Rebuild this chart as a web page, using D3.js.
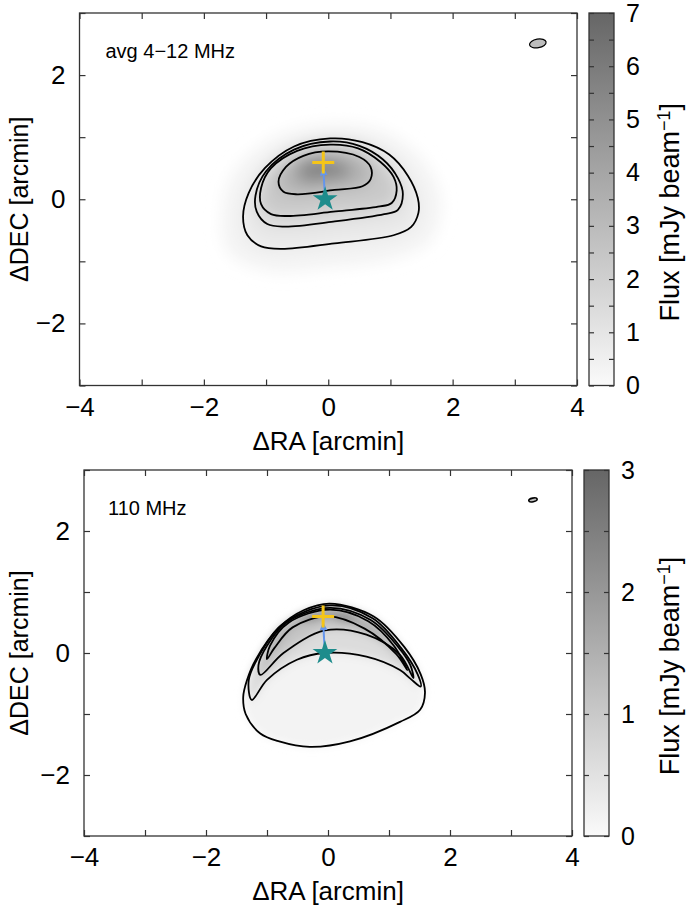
<!DOCTYPE html>
<html><head><meta charset="utf-8">
<script src="https://cdn.jsdelivr.net/npm/d3@7"></script>
<style>
body{margin:0;background:#fff}
text{font-family:"Liberation Sans",Arial,Helvetica,sans-serif;fill:#000}
</style></head>
<body><svg id="c" width="688" height="909"></svg>
<script>
// ---------- data ----------
const raTicks = [-4, -2, 0, 2, 4];
const decTicks = [-2, 0, 2];
const topCbarTicks = [0, 1, 2, 3, 4, 5, 6, 7];
const botCbarTicks = [0, 1, 2, 3];
const topLabel = "avg 4\u221212 MHz";
const botLabel = "110 MHz";

// top panel contours [ΔRA, ΔDEC]
const topC1 = [[0.03,0.98],[0.55,0.92],[0.98,0.72],[1.28,0.38],[1.44,0.02],[1.45,-0.22],[1.33,-0.45],[1.05,-0.58],[0.1,-0.71],[-0.75,-0.8],[-1.08,-0.76],[-1.3,-0.58],[-1.37,-0.28],[-1.28,0.1],[-1.02,0.5],[-0.55,0.85]];
const topC2 = [[0.03,0.93],[0.5,0.86],[0.88,0.64],[1.12,0.34],[1.2,0.08],[1.12,-0.17],[0.9,-0.24],[0.08,-0.36],[-0.7,-0.44],[-0.98,-0.4],[-1.15,-0.2],[-1.17,0.06],[-1.0,0.45],[-0.55,0.8]];
const topC3 = [[0.03,0.88],[0.48,0.82],[0.84,0.6],[1.05,0.36],[1.1,0.14],[1.02,-0.06],[0.8,-0.12],[0.08,-0.2],[-0.65,-0.27],[-0.92,-0.24],[-1.08,-0.08],[-1.08,0.18],[-0.92,0.5],[-0.5,0.78]];
const topC4 = [[0.0,0.77],[0.5,0.68],[0.68,0.52],[0.68,0.32],[0.55,0.21],[0.1,0.15],[-0.5,0.08],[-0.72,0.12],[-0.8,0.28],[-0.68,0.52],[-0.4,0.7]];
const topHalo = [[0.0,1.2],[0.85,1.1],[1.5,0.65],[1.8,0.0],[1.65,-0.65],[1.05,-0.95],[0.0,-1.1],[-0.95,-1.15],[-1.6,-0.85],[-1.7,-0.2],[-1.5,0.45],[-0.85,1.0]];
const topCore = [[-0.1,0.65],[0.3,0.55],[0.35,0.4],[0.0,0.32],[-0.4,0.3],[-0.5,0.45],[-0.4,0.6]];
const topShadeValues = [0.35, 0.85, 1.5, 2.3, 3.4, 5.6]; // halo, C1, C2, C3, C4, core (mJy/beam)

// bottom panel contours
const botC1 = [[0.03,0.81],[0.75,0.6],[1.25,0.1],[1.52,-0.35],[1.59,-0.65],[1.51,-0.93],[1.18,-1.13],[0.36,-1.45],[-0.3,-1.54],[-0.8,-1.45],[-1.11,-1.32],[-1.35,-1.0],[-1.39,-0.72],[-1.33,-0.45],[-1.18,-0.1],[-0.79,0.43],[-0.4,0.7]];
const botC2 = [[-1.25,-0.77],[-1.3,-0.45],[-1.16,-0.1],[-0.76,0.46],[0.03,0.78],[0.73,0.57],[1.2,0.08],[1.47,-0.35],[1.52,-0.55],[1.35,-0.42],[1.18,-0.28],[0.63,-0.06],[-0.05,0.0],[-0.51,-0.11],[-1.0,-0.44]];
const botC3 = [[-1.11,-0.36],[-1.14,-0.2],[-1.0,0.12],[-0.68,0.5],[0.03,0.74],[0.7,0.54],[1.15,0.1],[1.35,-0.2],[1.4,-0.41],[1.18,-0.03],[0.63,0.3],[-0.05,0.37],[-0.73,0.0]];
const botC4 = [[-1.0,-0.1],[-0.95,0.12],[-0.64,0.5],[0.03,0.71],[0.66,0.52],[1.08,0.12],[1.3,-0.28],[1.12,-0.02],[0.6,0.4],[0.0,0.6],[-0.58,0.42],[-0.88,0.08]];
const botCore = [[-0.5,0.6],[0.0,0.7],[0.5,0.6],[0.3,0.52],[0.0,0.6],[-0.3,0.52]];
const botShadeValues = [0.14, 0.6, 1.1, 1.7, 2.4]; // C1, C2, C3, C4, core

// markers [ΔRA, ΔDEC]
const topPlus = [-0.08, 0.59], topStar = [-0.05, 0.0], topArrowTip = [-0.08, 0.5];
const botPlus = [-0.08, 0.6], botStar = [-0.05, 0.0], botArrowTip = [-0.08, 0.49];
// beams: [ΔRA, ΔDEC, major, minor (arcmin), angle deg]
const topBeam = [3.37, 2.51, 0.27, 0.14, -10];
const botBeam = [3.36, 2.51, 0.14, 0.06, -12];

// ---------- drawing ----------
const svg = d3.select("#c");
const defs = svg.append("defs");
defs.append("marker").attr("id","arr").attr("viewBox","0 0 10 10").attr("refX",9).attr("refY",5)
  .attr("markerWidth",4).attr("markerHeight",4).attr("orient","auto")
  .append("path").attr("d","M0,0L10,5L0,10z").attr("fill","#6495ed");

const fmt = d3.format("d");
const FS = 26;

function panel(o, idx) {
  const x = d3.scaleLinear([-4, 4], [o.x0, o.x1]);
  const y = d3.scaleLinear([-3, 3], [o.y1, o.y0]);
  const color = d3.scaleLinear([0, o.cmax], ["#fafafa", "#666666"]);
  const g = svg.append("g");
  const clipId = "clip" + idx;
  defs.append("clipPath").attr("id", clipId).append("rect")
    .attr("x", o.x0).attr("y", o.y0).attr("width", o.x1 - o.x0).attr("height", o.y1 - o.y0);
  const blurId = "blur" + idx;
  defs.append("filter").attr("id", blurId).attr("x","-50%").attr("y","-50%").attr("width","200%").attr("height","200%")
    .append("feGaussianBlur").attr("stdDeviation", o.blur);

  const line = d3.line().x(d => x(d[0])).y(d => y(d[1])).curve(d3.curveCatmullRomClosed.alpha(0.5));

  const inner = g.append("g").attr("clip-path", `url(#${clipId})`);
  const shade = inner.append("g").attr("filter", `url(#${blurId})`);
  o.layers.forEach((poly, i) => {
    shade.append("path").attr("d", line(poly)).attr("fill", color(o.values[i]));
  });
  o.contours.forEach(poly => {
    inner.append("path").attr("d", line(poly)).attr("fill","none").attr("stroke","#000").attr("stroke-width",1.8);
  });
  // beam
  const b = o.beam;
  const rx = Math.abs(x(b[2] / 2) - x(0)), ry = Math.abs(y(b[3] / 2) - y(0));
  inner.append("ellipse").attr("cx", x(b[0])).attr("cy", y(b[1])).attr("rx", rx).attr("ry", ry)
    .attr("transform", `rotate(${b[4]},${x(b[0])},${y(b[1])})`)
    .attr("fill", "#bdbdbd").attr("stroke", "#000").attr("stroke-width", o.beamStroke);
  // arrow
  inner.append("line").attr("x1", x(o.star[0])).attr("y1", y(o.star[1]))
    .attr("x2", x(o.tip[0])).attr("y2", y(o.tip[1]))
    .attr("stroke", "#6495ed").attr("stroke-width", 2).attr("marker-end", "url(#arr)");
  // plus
  const px = x(o.plus[0]), py = y(o.plus[1]);
  inner.append("path").attr("d", `M${px-11},${py}H${px+11}M${px},${py-11}V${py+11}`)
    .attr("stroke", "#f5c518").attr("stroke-width", 3);
  // star
  inner.append("path").attr("d", d3.symbol(d3.symbolStar, 190)())
    .attr("transform", `translate(${x(o.star[0])},${y(o.star[1])})`).attr("fill", "#1e8c8c");

  // frame
  g.append("rect").attr("x", o.x0).attr("y", o.y0).attr("width", o.x1 - o.x0).attr("height", o.y1 - o.y0)
    .attr("fill","none").attr("stroke","#333").attr("stroke-width",1.3);

  const allRa = d3.range(-4, 5), allDec = d3.range(-3, 4);
  const axB = g.append("g").attr("transform", `translate(0,${o.y1})`)
    .call(d3.axisBottom(x).tickValues(allRa).tickSize(-6).tickPadding(12)
      .tickFormat(d => raTicks.includes(d) ? fmt(d) : ""));
  const axT = g.append("g").attr("transform", `translate(0,${o.y0})`)
    .call(d3.axisTop(x).tickValues(allRa).tickSize(-6).tickFormat(""));
  const axL = g.append("g").attr("transform", `translate(${o.x0},0)`)
    .call(d3.axisLeft(y).tickValues(allDec).tickSize(-6).tickPadding(14)
      .tickFormat(d => decTicks.includes(d) ? fmt(d) : ""));
  const axR = g.append("g").attr("transform", `translate(${o.x1},0)`)
    .call(d3.axisRight(y).tickValues(allDec).tickSize(-6).tickFormat(""));
  [axB, axT, axL, axR].forEach(a => {
    a.select(".domain").remove();
    a.selectAll("line").attr("stroke", "#333").attr("stroke-width", 1.2);
    a.selectAll("text").attr("font-size", FS).attr("font-family", "Liberation Sans, Arial, sans-serif").attr("fill","#000");
  });

  // axis labels
  g.append("text").attr("x", (o.x0 + o.x1) / 2).attr("y", o.y1 + 64).attr("text-anchor","middle")
    .attr("font-size", FS).text("\u0394RA [arcmin]");
  g.append("text").attr("transform", `translate(28,${(o.y0 + o.y1) / 2}) rotate(-90)`)
    .attr("text-anchor","middle").attr("font-size", 25).text("\u0394DEC [arcmin]");
  g.append("text").attr("x", o.x0 + o.labelDx).attr("y", o.y0 + 45).attr("font-size", 20).text(o.label);

  // colorbar
  const cb = o.cb;
  const cs = d3.scaleLinear([0, o.cmax], [o.y1, o.y0]);
  const gradId = "grad" + idx;
  const grad = defs.append("linearGradient").attr("id", gradId).attr("x1",0).attr("y1",1).attr("x2",0).attr("y2",0);
  grad.append("stop").attr("offset", 0).attr("stop-color", color(0));
  grad.append("stop").attr("offset", 1).attr("stop-color", color(o.cmax));
  g.append("rect").attr("x", cb[0]).attr("y", o.y0).attr("width", cb[1] - cb[0]).attr("height", o.y1 - o.y0)
    .attr("fill", `url(#${gradId})`).attr("stroke", "#333").attr("stroke-width", 1.3);
  const minor = d3.range(0, o.cmax + 0.01, 0.5);
  const cbL = g.append("g").attr("transform", `translate(${cb[0]},0)`)
    .call(d3.axisLeft(cs).tickValues(minor).tickSize(-5).tickFormat(""));
  const cbR = g.append("g").attr("transform", `translate(${cb[1]},0)`)
    .call(d3.axisRight(cs).tickValues(minor).tickSize(-5).tickPadding(12)
      .tickFormat(d => o.cticks.includes(d) ? fmt(d) : ""));
  [cbL, cbR].forEach(a => {
    a.select(".domain").remove();
    a.selectAll("line").attr("stroke", "#333").attr("stroke-width", 1.2);
    a.selectAll("text").attr("font-size", 25).attr("font-family", "Liberation Sans, Arial, sans-serif").attr("fill","#000");
  });
  const ft = g.append("text").attr("transform", `translate(679,${(o.y0 + o.y1) / 2 + 13}) rotate(-90)`)
    .attr("text-anchor","middle").attr("font-size", 27);
  ft.append("tspan").text("Flux [mJy beam");
  ft.append("tspan").attr("font-size", 18).attr("dy", -9).text("\u22121");
  ft.append("tspan").attr("dy", 9).text("]");
}

panel({
  x0: 79.5, x1: 577, y0: 13, y1: 385.5, cb: [589, 614], cmax: 7, cticks: topCbarTicks,
  layers: [topHalo, topC1, topC2, topC3, topC4, topCore], values: topShadeValues,
  contours: [topC1, topC2, topC3, topC4], blur: 8,
  beam: topBeam, beamStroke: 1.2, plus: topPlus, star: topStar, tip: topArrowTip,
  label: topLabel, labelDx: 26
}, 0);

panel({
  x0: 84, x1: 572, y0: 470, y1: 836, cb: [584, 609], cmax: 3, cticks: botCbarTicks,
  layers: [botC1, botC2, botC3, botC4, botCore], values: botShadeValues,
  contours: [botC1, botC2, botC3, botC4], blur: 4,
  beam: botBeam, beamStroke: 1.6, plus: botPlus, star: botStar, tip: botArrowTip,
  label: botLabel, labelDx: 24
}, 1);
</script></body></html>
